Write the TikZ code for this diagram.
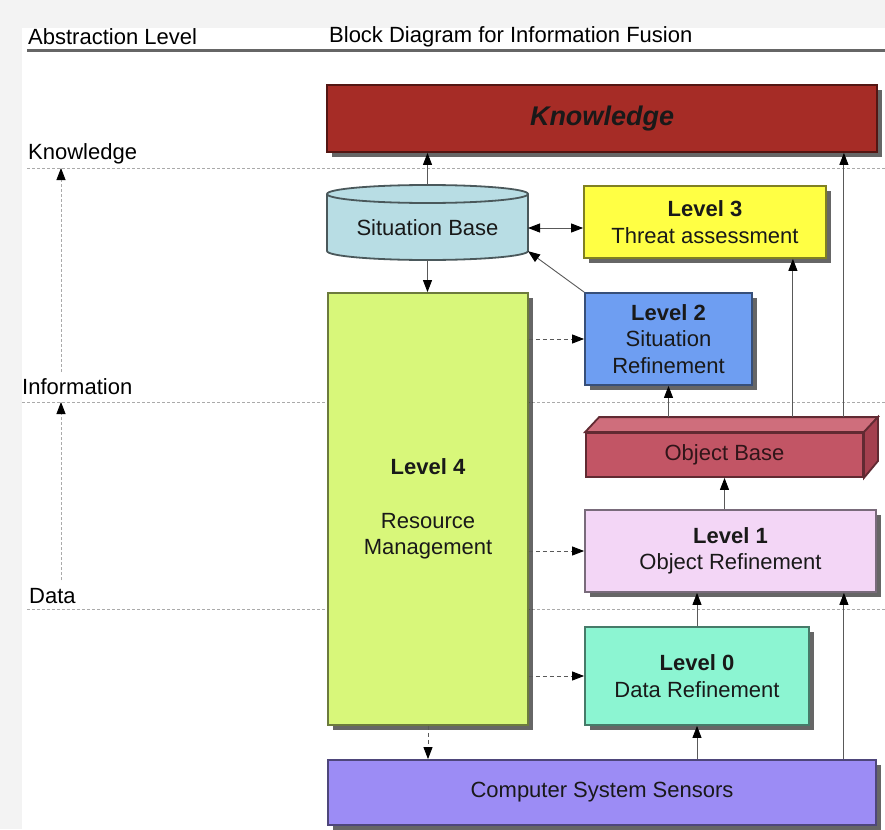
\documentclass[tikz,border=0pt]{standalone}
\usepackage{fontspec}
\setmainfont{Liberation Sans}
\usetikzlibrary{shapes.geometric, arrows.meta, positioning, shadows, calc}
\definecolor{bggray}{HTML}{F3F3F3}
\definecolor{linegray}{HTML}{666666}
\definecolor{dashgray}{HTML}{AAAAAA}
\definecolor{knowred}{HTML}{A62C26}
\definecolor{sitblue}{HTML}{B8DDE4}
\definecolor{threatyellow}{HTML}{FFFF44}
\definecolor{sitrefblue}{HTML}{6E9EF2}
\definecolor{resgreen}{HTML}{D8F77A}
\definecolor{objred}{HTML}{C25565}
\definecolor{objtop}{HTML}{CF6E7C}
\definecolor{objside}{HTML}{A4404F}
\definecolor{objpink}{HTML}{F3D6F6}
\definecolor{datamint}{HTML}{8CF5D2}
\definecolor{sensviolet}{HTML}{9C8CF5}
\begin{document}
\begin{tikzpicture}[x=1pt,y=-1pt,font=\fontsize{22}{26.5}\selectfont,
box/.style={rectangle, fill=#1, draw=#1!50!black, line width=1.8pt, align=center, inner sep=0pt, text=black!90,
drop shadow={shadow xshift=5pt, shadow yshift=-5pt, fill=black!85, opacity=.7}},
arr/.style={draw=black!65, line width=0.9pt, -{Triangle[length=12pt,width=9pt,color=black]}},
darr/.style={arr, dash pattern=on 4pt off 3pt},
axarr/.style={draw=dashgray, line width=0.8pt, dash pattern=on 3pt off 2pt, -{Triangle[length=12pt,width=9pt,color=black]}},
levline/.style={draw=dashgray, line width=0.8pt, dash pattern=on 3pt off 2pt}]
\useasboundingbox (0,0) rectangle (885,829);
\fill[bggray] (0,0) rectangle (885,829);
\fill[white] (22,28) rectangle (885,829);
\node[anchor=west, inner sep=0pt] (abstr) at (28,37) {Abstraction Level};
\node[anchor=west, inner sep=0pt] (title) at (329,37) {Block Diagram for Information Fusion};
\draw[linegray, line width=3pt] (27,51) -- (885,51);
\coordinate (knowline) at (27,168);
\coordinate (infoline) at (22,402);
\coordinate (dataline) at (27,609);
\draw[levline] (knowline) -- (885,168);
\draw[levline] (infoline) -- (885,402);
\draw[levline] (dataline) -- (885,609);
\node[anchor=west, inner sep=0pt] (lknow) at (28,154) {Knowledge};
\node[anchor=west, inner sep=0pt] (linfo) at (22,387) {Information};
\node[anchor=west, inner sep=0pt] (ldata) at (29,596) {Data};
\coordinate (axis) at (61,0);
\draw[axarr] ($(axis |- ldata.north)+(0,-8)$) -- (axis |- infoline);
\draw[axarr] ($(axis |- linfo.north)+(0,-7)$) -- (axis |- knowline);
\node[box=knowred, minimum width=550, minimum height=67, font=\fontsize{27}{32}\selectfont\bfseries\itshape, text=black!90] (know) at (602,118.5) {Knowledge};
\fill[sitblue, draw=sitblue!40!black, line width=1.8pt] (327,194) -- (327,251) arc[start angle=180, end angle=360, x radius=100.5pt, y radius=9pt] -- (528,194) arc[start angle=0, end angle=180, x radius=100.5pt, y radius=9pt] -- cycle;
\draw[sitblue!40!black, line width=1.8pt] (327,194) arc[start angle=180, end angle=360, x radius=100.5pt, y radius=9pt];
\node[minimum width=201, minimum height=64, inner sep=0pt, outer sep=0pt, text=black!90] (sitbase) at (427.5,228) {Situation Base};
\node[box=threatyellow, minimum width=242, minimum height=72] (lvl3) at (705,222) {\textbf{Level 3}\\Threat assessment};
\node[box=sitrefblue, minimum width=167, minimum height=92] (lvl2) at (668.5,339) {\textbf{Level 2}\\Situation\\Refinement};
\node[box=resgreen, minimum width=200, minimum height=432] (lvl4) at (428,509) {\textbf{Level 4}\\[27pt]Resource\\Management};
\node[rectangle, fill=objred, draw=objred!50!black, line width=1.8pt, minimum width=277, minimum height=44, text=objred!25!black] (objbase) at (724.5,455) {Object Base};
\fill[objtop, draw=objred!50!black, line width=1.8pt] (objbase.north west) -- ++(14,-15) -- ($(objbase.north east)+(14,-15)$) -- (objbase.north east) -- cycle;
\fill[objside, draw=objred!50!black, line width=1.8pt] (objbase.north east) -- ++(14,-15) -- ++(0,44) -- (objbase.south east) -- cycle;
\coordinate (obtop) at ($(objbase.north)+(0,-15)$);
\node[box=objpink, minimum width=291, minimum height=82] (lvl1) at (730.5,551) {\textbf{Level 1}\\Object Refinement};
\node[box=datamint, minimum width=224, minimum height=98] (lvl0) at (697,676) {\textbf{Level 0}\\Data Refinement};
\node[box=sensviolet, minimum width=548, minimum height=65] (sens) at (602,792.5) {Computer System Sensors};
\draw[arr] ([yshift=11pt]sitbase.north) -- (sitbase.north |- know.south);
\draw[arr] (sitbase.south) -- (sitbase.south |- lvl4.north);
\draw[arr, {Triangle[length=12pt,width=9pt,color=black]}-{Triangle[length=12pt,width=9pt,color=black]}] (sitbase.east) -- (sitbase.east -| lvl3.west);
\draw[arr] (lvl2.north west) -- (sitbase.-13);
\draw[darr] (lvl4.east |- lvl2.west) -- (lvl2.west);
\draw[darr] (lvl4.east |- lvl1.west) -- (lvl1.west);
\draw[darr] (lvl4.east |- lvl0.west) -- (lvl0.west);
\draw[darr] (lvl4.south) -- (lvl4.south |- sens.north);
\draw[arr] (lvl0.south |- sens.north) -- (lvl0.south);
\draw[arr] (lvl0.north) -- (lvl0.north |- lvl1.south);
\draw[arr] (objbase.south |- lvl1.north) -- (objbase.south);
\draw[arr] (lvl2.south |- obtop) -- (lvl2.south);
\coordinate (rthreat) at ($(lvl3.south east)+(-34,0)$);
\draw[arr] (rthreat |- obtop) -- (rthreat);
\coordinate (rknow) at ($(lvl1.south east)+(-33,0)$);
\draw[arr] (rknow |- obtop) -- (rknow |- know.south);
\draw[arr] (rknow |- sens.north) -- (rknow);
\end{tikzpicture}
\end{document}
